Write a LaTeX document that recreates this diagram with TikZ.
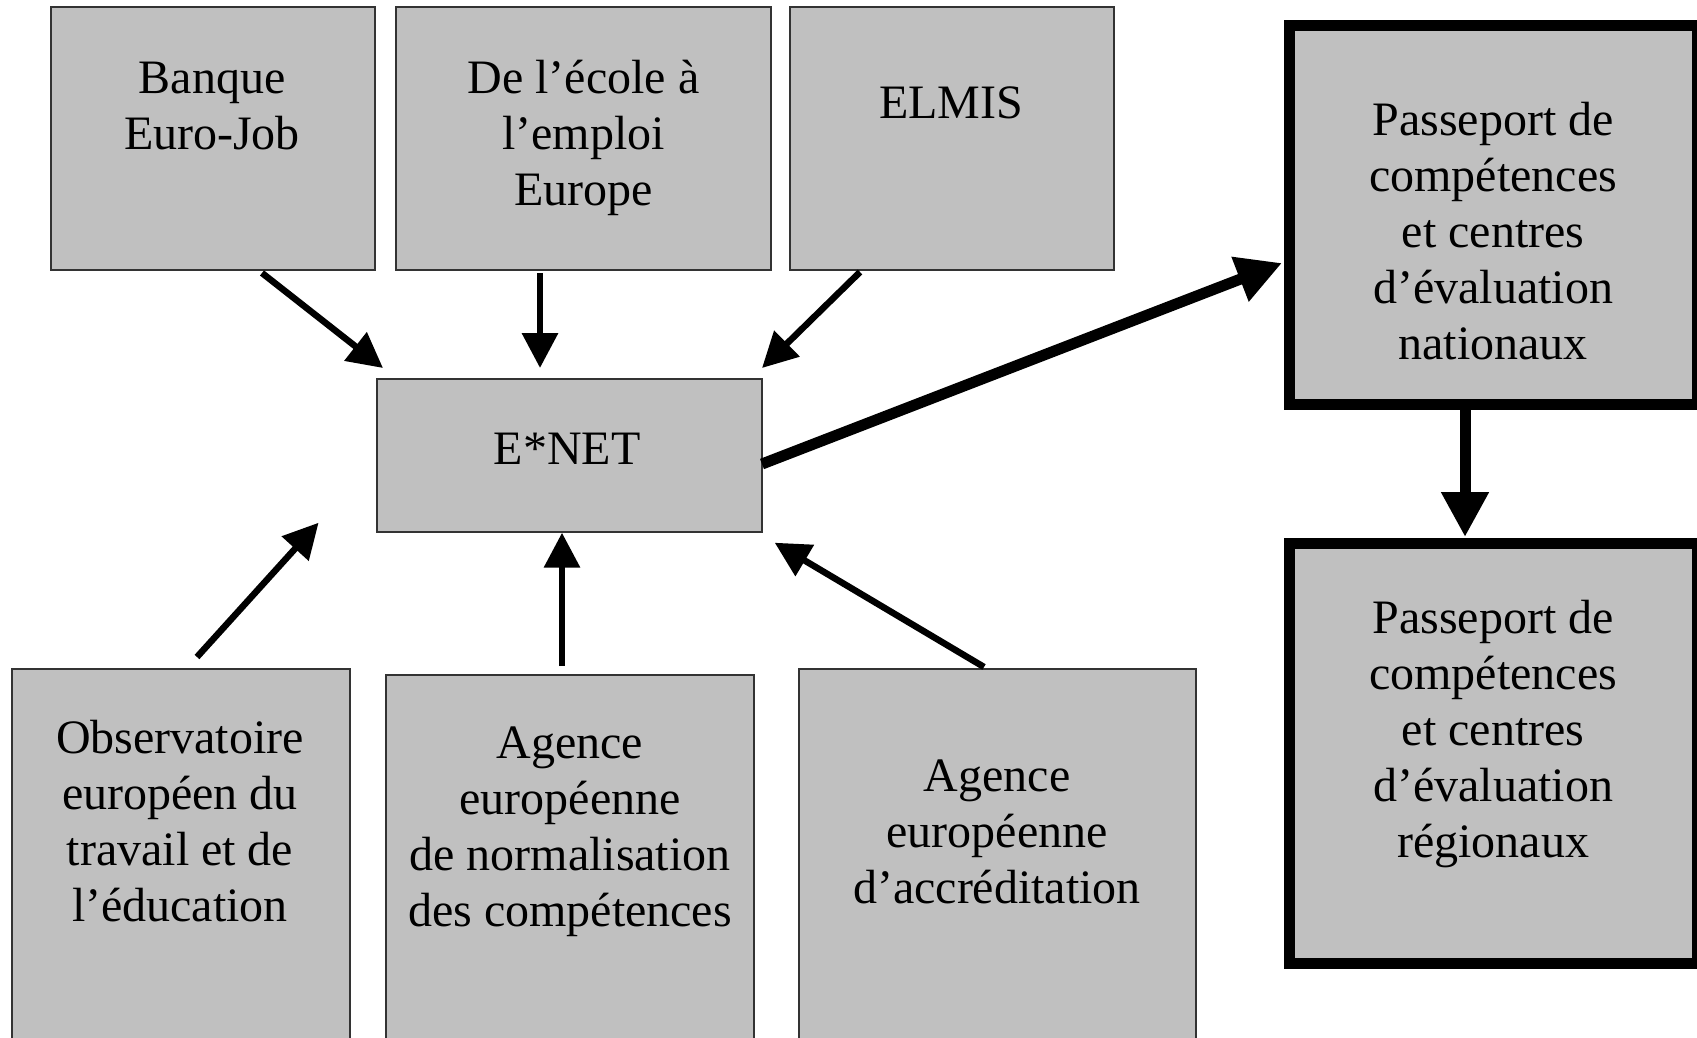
\documentclass[tikz,border=0pt]{standalone}
\usepackage{fontspec}
\setmainfont{Liberation Serif}
\usetikzlibrary{arrows.meta,calc}
\definecolor{boxfill}{RGB}{192,192,192}
\definecolor{boxline}{RGB}{51,51,51}
\begin{document}
\begin{tikzpicture}[x=1pt,y=-1pt,
  box/.style={draw=boxline,line width=1.3pt,fill=boxfill,rectangle,
    inner sep=0pt,outer sep=0pt,anchor=north west},
  heavybox/.style={draw=black,line width=11pt,fill=boxfill,rectangle,
    inner sep=0pt,outer sep=0pt,anchor=north west},
  label/.style={inner sep=0pt,anchor=base,
    font=\fontsize{48}{56}\selectfont},
  link/.style={line width=6.5pt,line cap=butt,
    -{Triangle[length=35pt,width=35pt]}},
  heavylink/.style={line width=11pt,line cap=butt,
    -{Triangle[length=45pt,width=45pt]}}]
\useasboundingbox (0,0) rectangle (1697,1037);
\clip (0,0) rectangle (1697,1037);

% boxes (sizes between border centres)
\node[box,minimum width=324pt,minimum height=263pt] (banque) at (51,7) {};
\node[box,minimum width=375pt,minimum height=263pt] (ecole) at (396,7) {};
\node[box,minimum width=324pt,minimum height=263pt] (elmis) at (790,7) {};
\node[box,minimum width=385pt,minimum height=153pt] (enet) at (377,379) {};
\node[box,minimum width=338pt,minimum height=450pt] (obs) at (12,669) {};
\node[box,minimum width=368pt,minimum height=450pt] (norm) at (386,675) {};
\node[box,minimum width=397pt,minimum height=450pt] (accr) at (799,669) {};
\node[heavybox,minimum width=408.5pt,minimum height=379pt] (nat) at (1289,25.5) {};
\node[heavybox,minimum width=408.5pt,minimum height=420.5pt] (reg) at (1289,543) {};

% box texts, placed on the baseline of their first line
\node[label] (banque-t) at (212,93.6)
  {\parbox[t]{400pt}{\centering Banque\\Euro-Job}};
\node[label] (ecole-t) at (583.5,93.6)
  {\parbox[t]{400pt}{\centering De l’école à\\l’emploi\\Europe}};
\node[label] (elmis-t) at (951,118.6)
  {\parbox[t]{400pt}{\centering ELMIS}};
\node[label] (enet-t) at (567,464)
  {\parbox[t]{400pt}{\centering E*NET}};
\node[label] (obs-t) at (180,753)
  {\parbox[t]{400pt}{\centering Observatoire\\européen du\\travail et de\\l’éducation}};
\node[label] (norm-t) at (570,758.5)
  {\parbox[t]{400pt}{\centering Agence\\européenne\\de normalisation\\des compétences}};
\node[label] (accr-t) at (997,791)
  {\parbox[t]{400pt}{\centering Agence\\européenne\\d’accréditation}};
\node[label] (nat-t) at (1493,135)
  {\parbox[t]{400pt}{\centering Passeport de\\compétences\\et centres\\d’évaluation\\nationaux}};
\node[label] (reg-t) at (1493,633.5)
  {\parbox[t]{400pt}{\centering Passeport de\\compétences\\et centres\\d’évaluation\\régionaux}};

% connector end points
\coordinate (banque-out) at ($(banque.south west)+(211,3)$);
\coordinate (ecole-out)  at ($(ecole.south west)+(144,3)$);
\coordinate (elmis-out)  at ($(elmis.south west)+(70,2)$);
\coordinate (obs-out)    at ($(obs.north west)+(185,-12)$);
\coordinate (norm-out)   at ($(norm.north west)+(176,-9)$);
\coordinate (accr-out)   at ($(accr.north west)+(185,-2)$);
\coordinate (enet-out)   at ($(enet.east)+(0,8.5)$);
\coordinate (nat-out)    at ($(nat.south west)+(176,5.5)$);

\coordinate (enet-in1) at ($(enet.north west)+(6,-11)$);
\coordinate (enet-in2) at ($(enet.north west)+(163,-11)$);
\coordinate (enet-in3) at ($(enet.north east)+(0,-11)$);
\coordinate (enet-in4) at ($(enet.south west)+(-58.4,-9.3)$);
\coordinate (enet-in5) at ($(enet.south west)+(185,0.7)$);
\coordinate (enet-in6) at ($(enet.south east)+(12.7,10.7)$);
\coordinate (nat-in)   at ($(nat.west)+(-7,48)$);
\coordinate (reg-in)   at ($(reg.north west)+(176,-6)$);

% connectors
\draw[link] (banque-out) -- (enet-in1);
\draw[link] (ecole-out) -- (enet-in2);
\draw[link] (elmis-out) -- (enet-in3);
\draw[link] (obs-out) -- (enet-in4);
\draw[link] (norm-out) -- (enet-in5);
\draw[link] (accr-out) -- (enet-in6);
\draw[heavylink] (enet-out) -- (nat-in);
\draw[heavylink] (nat-out) -- (reg-in);
\end{tikzpicture}
\end{document}
